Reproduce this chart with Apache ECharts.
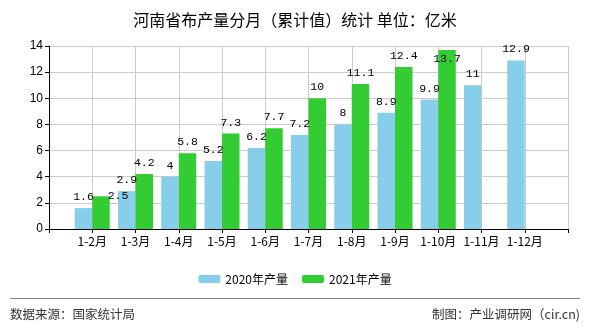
<!DOCTYPE html>
<html><head><meta charset="utf-8">
<script src="https://cdn.jsdelivr.net/npm/echarts@6/dist/echarts.min.js"></script>
<style>html,body{margin:0;padding:0;background:#fff}#c{width:590px;height:330px}</style>
</head><body><div id="c"></div>
<script>
var categories = ['1-2月','1-3月','1-4月','1-5月','1-6月','1-7月','1-8月','1-9月','1-10月','1-11月','1-12月'];
var series2020 = [1.6, 2.9, 4, 5.2, 6.2, 7.2, 8, 8.9, 9.9, 11, 12.9];
var series2021 = [2.5, 4.2, 5.8, 7.3, 7.7, 10, 11.1, 12.4, 13.7, null, null];
var seriesNames = ['2020年产量', '2021年产量'];
var yTicks = {min: 0, max: 14, interval: 2};

var cats = [''].concat(categories, ['']);
function pad(a){ return [null].concat(a, [null]); }
var d2021 = pad(series2021).map(function(v, i){
  if (i === 1) return {value: v, label: {offset: [17, 11]}};
  if (i === 9) return {value: v, label: {offset: [0, 20]}};
  return v;
});
var lblFont = {show: true, position: 'top', distance: 5, color: '#000', fontSize: 11.5, fontFamily: 'Liberation Mono'};
var chart = echarts.init(document.getElementById('c'));
chart.setOption({
  backgroundColor: '#fff',
  animation: false,
  title: {text: '河南省布产量分月（累计值）统计 单位：亿米', left: 'center', top: 7,
    textStyle: {fontSize: 16, fontWeight: 'normal', color: '#000', fontFamily: 'Noto Sans CJK SC'}},
  legend: {data: seriesNames, top: 268, left: 'center', itemWidth: 22, itemHeight: 8, itemGap: 14,
    textStyle: {fontSize: 12, color: '#000', fontFamily: 'Noto Sans CJK SC'}},
  grid: {left: 49, right: 22, top: 46, bottom: 101},
  xAxis: {type: 'category', data: cats, boundaryGap: false,
    axisLine: {lineStyle: {color: '#000', width: 1}},
    axisTick: {show: true, length: 4, lineStyle: {color: '#000'}},
    axisLabel: {color: '#000', fontSize: 12, margin: 6, fontFamily: 'Noto Sans CJK SC', interval: 0},
    splitLine: {show: true, lineStyle: {color: '#ccc'}}},
  yAxis: {type: 'value', min: yTicks.min, max: yTicks.max, interval: yTicks.interval,
    axisLine: {show: true, lineStyle: {color: '#000'}},
    axisTick: {show: true, length: 4, lineStyle: {color: '#000'}},
    axisLabel: {color: '#000', fontSize: 12, margin: 6, fontFamily: 'Liberation Sans'},
    splitLine: {lineStyle: {color: '#ccc'}}},
  series: [
    {name: seriesNames[0], type: 'bar', data: pad(series2020), barWidth: 17.5, barGap: '0%',
      itemStyle: {color: '#87CEEB'}, label: lblFont},
    {name: seriesNames[1], type: 'bar', data: d2021, barWidth: 17.5, barGap: '0%',
      itemStyle: {color: '#33CC33'}, label: lblFont}
  ],
  graphic: [
    {type: 'line', shape: {x1: 10, y1: 298.5, x2: 580, y2: 298.5}, style: {stroke: '#888', lineWidth: 1}},
    {type: 'text', left: 10, top: 308, style: {text: '数据来源：国家统计局', fontSize: 12.5, fill: '#333', fontFamily: 'Noto Sans CJK SC'}},
    {type: 'text', right: 10, top: 308, style: {text: '制图：产业调研网（cir.cn)', fontSize: 12.5, fill: '#333', fontFamily: 'Noto Sans CJK SC'}}
  ]
});
</script></body></html>
